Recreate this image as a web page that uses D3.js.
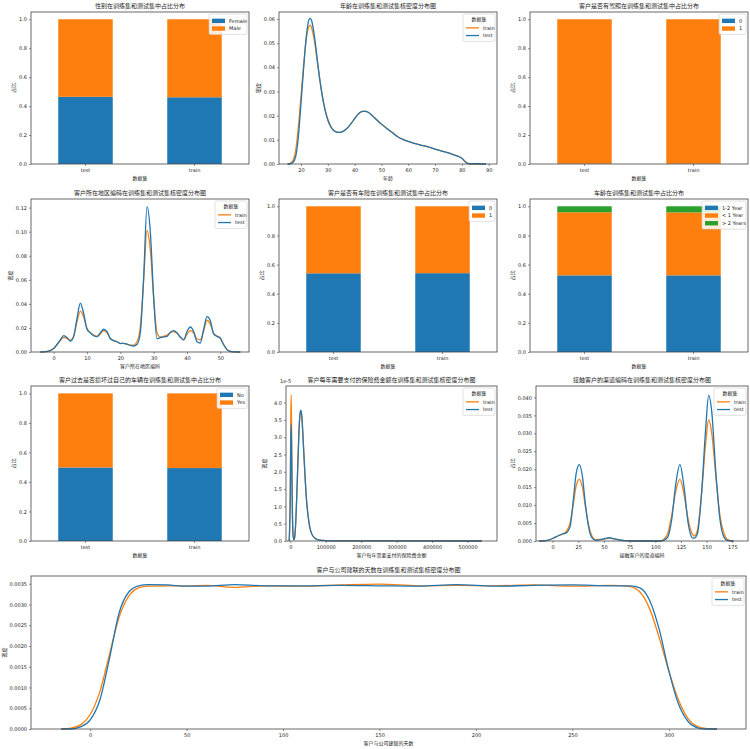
<!DOCTYPE html>
<html>
<head>
<meta charset="utf-8">
<script src="https://cdn.jsdelivr.net/npm/d3@7"></script>
<style>
  body { margin: 0; background: #fff; }
  text { font-family: "DejaVu Sans", "Noto Sans CJK SC", sans-serif; fill: #222; }
</style>
</head>
<body>
<div class="chart"></div>
<script>
var svgWidth = 750
var svgHeight = 749

var blue = "#1f77b4"
var orange = "#ff7f0e"
var green = "#2ca02c"

// bar data (share per dataset, order: test, train)
var datasets = ["test", "train"]

var genderFemale = [0.464, 0.461]
var genderMale = [0.536, 0.539]

var licence0 = [0.002, 0.002]
var licence1 = [0.998, 0.998]

var insured0 = [0.540, 0.541]
var insured1 = [0.460, 0.459]

var vehAge12 = [0.526, 0.526]
var vehAgeLt1 = [0.433, 0.432]
var vehAgeGt2 = [0.041, 0.042]

var damageNo = [0.498, 0.494]
var damageYes = [0.502, 0.506]

// kde data
var ageX =     [15, 16, 17, 18, 19, 20, 21, 22, 23, 23.5, 24, 25, 26, 27, 28, 29, 30, 31, 32, 33, 34, 35, 36, 37, 38, 39, 40, 41, 42, 43, 44, 45, 46, 47, 48, 50, 52, 54, 56, 58, 60, 63, 66, 70, 74, 77, 79, 80, 81, 82, 83, 85, 89]
var ageTrain = [0, 0.0003, 0.0014, 0.0055, 0.015, 0.028, 0.041, 0.052, 0.0570, 0.0575, 0.0562, 0.051, 0.043, 0.035, 0.028, 0.0225, 0.0185, 0.0158, 0.0142, 0.0134, 0.0131, 0.0132, 0.0137, 0.0146, 0.0158, 0.0172, 0.0188, 0.0202, 0.0213, 0.0218, 0.0219, 0.0215, 0.0206, 0.0196, 0.0186, 0.0166, 0.0148, 0.0131, 0.0114, 0.0102, 0.0094, 0.0083, 0.0075, 0.0062, 0.0049, 0.0038, 0.0030, 0.0024, 0.0013, 0.0004, 0.0001, 0.0001, 0]
var ageTest =  [0, 0.0001, 0.0006, 0.003, 0.011, 0.025, 0.040, 0.053, 0.0598, 0.0603, 0.0592, 0.053, 0.044, 0.035, 0.0278, 0.0222, 0.0182, 0.0156, 0.0141, 0.0133, 0.0131, 0.0132, 0.0137, 0.0146, 0.0158, 0.0172, 0.0188, 0.0202, 0.0213, 0.0218, 0.0218, 0.0214, 0.0206, 0.0195, 0.0185, 0.0165, 0.0147, 0.0130, 0.0113, 0.0102, 0.0094, 0.0083, 0.0075, 0.0062, 0.0049, 0.0038, 0.0030, 0.0024, 0.0012, 0.0003, 0.0001, 0.0001, 0]

var regionX =     [-4, -2, 0, 2, 3, 4, 5, 6, 7, 8, 9, 10, 11, 12, 13, 14, 15, 16, 17, 18, 19, 20, 21, 22, 23, 24, 25, 26, 27, 28, 29, 30, 31, 32, 33, 34, 35, 36, 37, 38, 39, 40, 41, 42, 43, 44, 45, 46, 47, 48, 49, 50, 51, 52, 53, 54, 56]
var regionTrain = [0, 0.0005, 0.003, 0.0095, 0.0122, 0.0112, 0.0098, 0.013, 0.025, 0.034, 0.029, 0.0195, 0.016, 0.014, 0.013, 0.015, 0.0178, 0.016, 0.0115, 0.0095, 0.0085, 0.0072, 0.0072, 0.0065, 0.0057, 0.0058, 0.0085, 0.021, 0.060, 0.101, 0.085, 0.045, 0.016, 0.0125, 0.013, 0.014, 0.016, 0.0170, 0.0155, 0.0122, 0.0102, 0.0148, 0.0178, 0.0158, 0.0108, 0.0102, 0.0175, 0.0264, 0.0230, 0.0155, 0.0132, 0.0112, 0.0062, 0.0022, 0.0006, 0.0001, 0]
var regionTest =  [0, 0.0004, 0.003, 0.010, 0.0136, 0.012, 0.009, 0.013, 0.028, 0.0406, 0.032, 0.019, 0.016, 0.0135, 0.0128, 0.016, 0.0189, 0.017, 0.011, 0.0095, 0.0085, 0.007, 0.0072, 0.0065, 0.0055, 0.005, 0.0062, 0.016, 0.062, 0.1208, 0.100, 0.045, 0.011, 0.012, 0.0125, 0.013, 0.0165, 0.0178, 0.016, 0.0125, 0.0100, 0.017, 0.0208, 0.017, 0.0085, 0.0075, 0.019, 0.0294, 0.026, 0.015, 0.013, 0.0115, 0.006, 0.002, 0.0005, 0.0001, 0]

// premium density is in units of 1e-5
var premiumX =     [-3000, 0, 1500, 2600, 4000, 6000, 8000, 10000, 12000, 15000, 18000, 21000, 24000, 27000, 30000, 33000, 36000, 40000, 45000, 50000, 55000, 60000, 70000, 80000, 100000, 150000, 300000, 540000]
var premiumTrain = [0, 1.5, 3.6, 4.22, 3.0, 1.0, 0.2, 0.04, 0.08, 0.45, 1.2, 2.1, 3.0, 3.6, 3.77, 3.55, 3.0, 2.2, 1.3, 0.75, 0.4, 0.22, 0.08, 0.03, 0.01, 0.003, 0.001, 0]
var premiumTest =  [0, 1.2, 2.9, 3.38, 2.4, 0.8, 0.15, 0.03, 0.08, 0.45, 1.2, 2.1, 3.0, 3.62, 3.78, 3.56, 3.0, 2.2, 1.3, 0.75, 0.4, 0.22, 0.08, 0.03, 0.01, 0.003, 0.001, 0]

var channelX =     [-13, -5, 0, 5, 10, 13, 17, 20, 23, 26, 29, 32, 35, 38, 42, 50, 55, 60, 70, 80, 105, 108, 112, 116, 120, 124, 128, 132, 136, 138, 141, 145, 149, 152, 155, 159, 163, 167, 170, 176]
var channelTrain = [0, 0.0002, 0.0007, 0.0014, 0.002, 0.0026, 0.005, 0.010, 0.0155, 0.0172, 0.015, 0.0095, 0.0045, 0.0016, 0.0004, 0.0005, 0.0008, 0.0006, 0.0001, 0, 0, 0.0004, 0.002, 0.0072, 0.014, 0.0172, 0.013, 0.006, 0.0019, 0.0014, 0.003, 0.013, 0.027, 0.0338, 0.030, 0.018, 0.007, 0.002, 0.0005, 0]
var channelTest =  [0, 0.0002, 0.0007, 0.0014, 0.002, 0.0022, 0.004, 0.011, 0.019, 0.0213, 0.018, 0.010, 0.004, 0.001, 0.0002, 0.0006, 0.0009, 0.0006, 0.0001, 0, 0, 0.0002, 0.001, 0.006, 0.016, 0.0213, 0.015, 0.005, 0.0009, 0.0008, 0.002, 0.013, 0.031, 0.0406, 0.036, 0.019, 0.006, 0.001, 0.0002, 0]

var vintageX =     [-15, -10, -5, 0, 5, 10, 15, 20, 25, 30, 40, 50, 60, 75, 90, 110, 130, 150, 170, 190, 210, 230, 250, 270, 280, 285, 290, 295, 300, 305, 310, 315, 320, 325]
var vintageTrain = [0, 0.00002, 0.0001, 0.00035, 0.0009, 0.0018, 0.0027, 0.0032, 0.0034, 0.00344, 0.00345, 0.00345, 0.00346, 0.00341, 0.00345, 0.00344, 0.00347, 0.00349, 0.00345, 0.00346, 0.00345, 0.00347, 0.00344, 0.00346, 0.00343, 0.0033, 0.0029, 0.0022, 0.0014, 0.0007, 0.00025, 0.00006, 0.00001, 0]
var vintageTest =  [0, 0, 0.00005, 0.00022, 0.0007, 0.0017, 0.0028, 0.0033, 0.00345, 0.00348, 0.00347, 0.00344, 0.00344, 0.00348, 0.00345, 0.00345, 0.00346, 0.00345, 0.00344, 0.00348, 0.00344, 0.00346, 0.00347, 0.00345, 0.00345, 0.0034, 0.0031, 0.0024, 0.0014, 0.0006, 0.00018, 0.00003, 0, 0]

var svg = d3.select(".chart")
    .append("svg")
    .attr("width", svgWidth)
    .attr("height", svgHeight);

function frame(g, w, h) {
    g.append("rect")
        .attr("width", w)
        .attr("height", h)
        .attr("fill", "none")
        .attr("stroke", "#444")
        .attr("stroke-width", 0.8);
}

function styleAxis(ax) {
    ax.selectAll("path").remove();
    ax.selectAll("line").attr("stroke", "#444").attr("stroke-width", 0.6);
    ax.selectAll("text").style("font-size", "5px").attr("fill", "#222");
}

function labels(g, w, h, title, xlabel, ylabel, yOff) {
    g.append("text")
        .attr("x", w / 2).attr("y", -4)
        .attr("text-anchor", "middle")
        .style("font-size", "6px")
        .text(title);
    g.append("text")
        .attr("x", w / 2).attr("y", h + 16)
        .attr("text-anchor", "middle")
        .style("font-size", "5px")
        .text(xlabel);
    g.append("text")
        .attr("transform", `translate(${-yOff}, ${h / 2}) rotate(-90)`)
        .attr("text-anchor", "middle")
        .style("font-size", "5px")
        .text(ylabel);
}

function legend(g, w, items, kind, title, boxW) {
    var rowH = 7.7;
    var top = title ? 10 : 3;
    var boxH = top + items.length * rowH + 2;
    var lg = g.append("g").attr("transform", `translate(${w - boxW - 2}, 2)`);
    lg.append("rect")
        .attr("width", boxW).attr("height", boxH)
        .attr("rx", 1.5)
        .attr("fill", "white").attr("fill-opacity", 0.85)
        .attr("stroke", "#ccc").attr("stroke-width", 0.6);
    if (title) {
        lg.append("text")
            .attr("x", boxW / 2).attr("y", 7)
            .attr("text-anchor", "middle")
            .style("font-size", "5px")
            .text(title);
    }
    items.forEach(function(it, i) {
        var cy = top + i * rowH + rowH / 2;
        if (kind === "patch") {
            lg.append("rect")
                .attr("x", 3).attr("y", cy - 2.2)
                .attr("width", 13).attr("height", 4.4)
                .attr("fill", it.color);
        } else {
            lg.append("line")
                .attr("x1", 3).attr("x2", 16)
                .attr("y1", cy).attr("y2", cy)
                .attr("stroke", it.color).attr("stroke-width", 1.3);
        }
        lg.append("text")
            .attr("x", 20).attr("y", cy + 1.8)
            .style("font-size", "5px")
            .text(it.name);
    });
}

function barPanel(box, title, series, names, colors, legendW) {
    var w = box[2] - box[0], h = box[3] - box[1];
    var g = svg.append("g").attr("transform", `translate(${box[0]}, ${box[1]})`);
    var x = d3.scaleBand().domain(datasets).range([0, w]).paddingInner(0.5).paddingOuter(0.25);
    var y = d3.scaleLinear().domain([0, 1.05]).range([h, 0]);

    var stacked = datasets.map(function(d, i) {
        var base = 0;
        return series.map(function(s, k) {
            var seg = { cat: d, y0: base, y1: base + s[i], color: colors[k] };
            base += s[i];
            return seg;
        });
    });
    stacked.forEach(function(segs) {
        g.selectAll(null)
            .data(segs)
            .enter()
            .append("rect")
            .attr("x", d => x(d.cat))
            .attr("width", x.bandwidth())
            .attr("y", d => y(d.y1))
            .attr("height", d => y(d.y0) - y(d.y1))
            .attr("fill", d => d.color);
    });

    var xAxis = g.append("g").attr("transform", `translate(0, ${h})`)
        .call(d3.axisBottom(x).tickSize(2).tickPadding(2));
    styleAxis(xAxis);
    var yAxis = g.append("g")
        .call(d3.axisLeft(y).tickValues([0, 0.2, 0.4, 0.6, 0.8, 1.0]).tickFormat(d3.format(".1f")).tickSize(2).tickPadding(2));
    styleAxis(yAxis);
    frame(g, w, h);
    labels(g, w, h, title, "数据集", "占比", 16);
    legend(g, w, names.map((n, k) => ({ name: n, color: colors[k] })), "patch", null, legendW);
}

function kdePanel(opt) {
    var box = opt.box;
    var w = box[2] - box[0], h = box[3] - box[1];
    var g = svg.append("g").attr("transform", `translate(${box[0]}, ${box[1]})`);
    var x = d3.scaleLinear().domain(opt.xDomain).range([0, w]);
    var y = d3.scaleLinear().domain(opt.yDomain).range([h, 0]);

    var line = d3.line()
        .x(d => x(d[0]))
        .y(d => y(d[1]))
        .curve(d3.curveMonotoneX);

    [[opt.train, orange], [opt.test, blue]].forEach(function(p) {
        g.append("path")
            .datum(opt.xs.map((v, i) => [v, p[0][i]]))
            .attr("d", line)
            .attr("fill", "none")
            .attr("stroke", p[1])
            .attr("stroke-width", 1.3);
    });

    var xAxis = g.append("g").attr("transform", `translate(0, ${h})`)
        .call(d3.axisBottom(x).tickValues(opt.xTicks).tickFormat(d3.format("d")).tickSize(2).tickPadding(2));
    styleAxis(xAxis);
    var yAxis = g.append("g")
        .call(d3.axisLeft(y).tickValues(opt.yTicks).tickFormat(d3.format(opt.yFormat)).tickSize(2).tickPadding(2));
    styleAxis(yAxis);
    frame(g, w, h);
    labels(g, w, h, opt.title, opt.xlabel, opt.ylabel, opt.yOff);
    if (opt.offsetText) {
        g.append("text")
            .attr("x", -6).attr("y", -3)
            .style("font-size", "5px")
            .text(opt.offsetText);
    }
    legend(g, w, [{ name: "train", color: orange }, { name: "test", color: blue }], "line", "数据集", 32);
}

function range(a, b, s) { return d3.range(a, b + s / 2, s); }

// row 1
barPanel([31, 12, 249, 164], "性别在训练集和测试集中占比分布",
    [genderFemale, genderMale], ["Female", "Male"], [blue, orange], 38);

kdePanel({
    box: [279, 12, 497, 164], title: "年龄在训练集和测试集核密度分布图",
    xlabel: "年龄", ylabel: "密度", yOff: 19,
    xDomain: [11.8, 93.1], yDomain: [0, 0.0629],
    xTicks: range(20, 90, 10), yTicks: range(0, 0.06, 0.01), yFormat: ".2f",
    xs: ageX, train: ageTrain, test: ageTest
});

barPanel([530, 12, 748, 164], "客户是否有驾照在训练集和测试集中占比分布",
    [licence0, licence1], ["0", "1"], [blue, orange], 27);

// row 2
kdePanel({
    box: [31, 199, 249, 352], title: "客户所在地区编码在训练集和测试集核密度分布图",
    xlabel: "客户所在地区编码", ylabel: "密度", yOff: 19,
    xDomain: [-6.8, 58.6], yDomain: [0, 0.1272],
    xTicks: range(0, 50, 10), yTicks: range(0, 0.12, 0.02), yFormat: ".2f",
    xs: regionX, train: regionTrain, test: regionTest
});

barPanel([279, 199, 497, 352], "客户是否有车险在训练集和测试集中占比分布",
    [insured0, insured1], ["0", "1"], [blue, orange], 26);

barPanel([530, 199, 748, 352], "车龄在训练集和测试集中占比分布",
    [vehAge12, vehAgeLt1, vehAgeGt2], ["1-2 Year", "< 1 Year", "> 2 Years"], [blue, orange, green], 44);

// row 3
barPanel([31, 386, 249, 541], "客户过去是否损坏过自己的车辆在训练集和测试集中占比分布",
    [damageNo, damageYes], ["No", "Yes"], [blue, orange], 30);

kdePanel({
    box: [286, 386, 497, 541], title: "客户每年需要支付的保险费金额在训练集和测试集核密度分布图",
    xlabel: "客户每年需要支付的保险费金额", ylabel: "密度", yOff: 20,
    xDomain: [-12000, 583000], yDomain: [0, 4.48],
    xTicks: range(0, 500000, 100000), yTicks: range(0, 4, 0.5), yFormat: ".1f",
    xs: premiumX, train: premiumTrain, test: premiumTest, offsetText: "1e-5"
});

kdePanel({
    box: [536, 386, 748, 541], title: "接触客户的渠道编码在训练集和测试集核密度分布图",
    xlabel: "接触客户的渠道编码", ylabel: "占比", yOff: 22,
    xDomain: [-16.2, 190.3], yDomain: [0, 0.0432],
    xTicks: range(0, 175, 25), yTicks: range(0, 0.04, 0.005), yFormat: ".3f",
    xs: channelX, train: channelTrain, test: channelTest
});

// row 4
kdePanel({
    box: [31, 576, 746, 729], title: "客户与公司建联的天数在训练集和测试集核密度分布图",
    xlabel: "客户与公司建联的天数", ylabel: "密度", yOff: 25,
    xDomain: [-30.7, 340], yDomain: [0, 0.003686],
    xTicks: range(0, 300, 50), yTicks: range(0, 0.0035, 0.0005), yFormat: ".4f",
    xs: vintageX, train: vintageTrain, test: vintageTest
});
</script>
</body>
</html>
